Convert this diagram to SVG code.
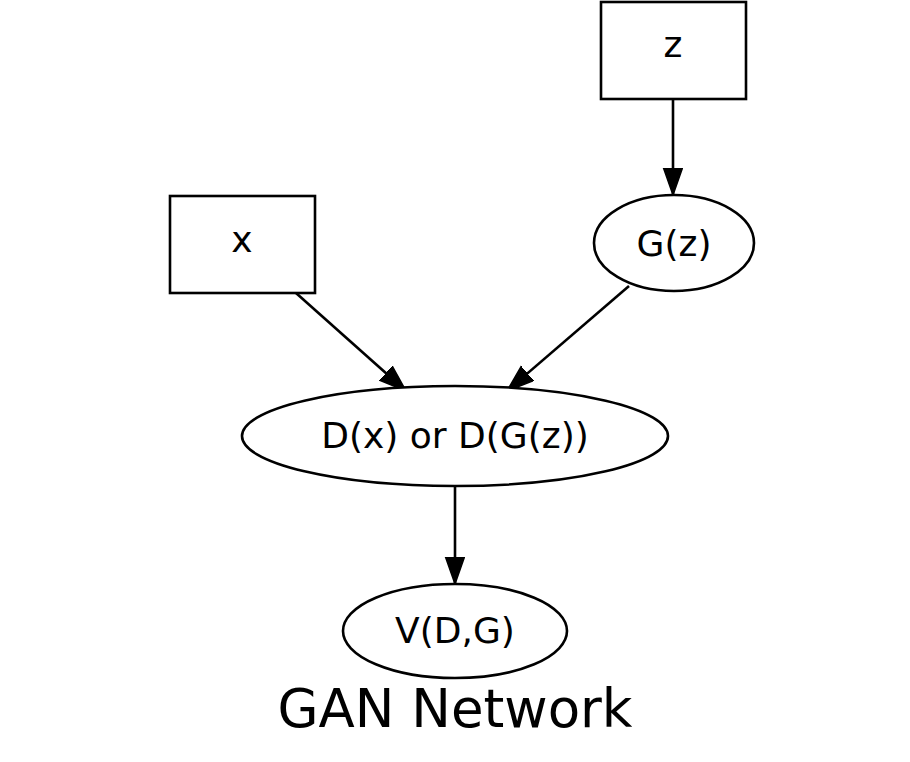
<svg xmlns="http://www.w3.org/2000/svg" width="910" height="762" viewBox="0 0 910 762">
<defs>
<style>
.n{fill:#fff;stroke:#000;stroke-width:2.6}
.t{font-family:"DejaVu Sans",sans-serif;font-size:36px;fill:#000;text-anchor:middle}
.e{stroke:#000;stroke-width:2.6;fill:none}
</style>
<marker id="ah" markerUnits="userSpaceOnUse" markerWidth="30" markerHeight="22" refX="27" refY="10" orient="auto" viewBox="0 0 30 22">
<polygon points="0,0.5 27,10 0,19.5" fill="#000" stroke="#000" stroke-width="1.5"/>
</marker>
</defs>
<rect width="910" height="762" fill="#fff"/>
<g id="edges">
<line class="e" x1="673" y1="99" x2="673" y2="195" marker-end="url(#ah)"/>
<line class="e" x1="296" y1="293" x2="406" y2="391" marker-end="url(#ah)"/>
<line class="e" x1="629" y1="286" x2="507" y2="391" marker-end="url(#ah)"/>
<line class="e" x1="455" y1="486" x2="455" y2="584" marker-end="url(#ah)"/>
</g>
<g id="z">
<rect class="n" x="601" y="2" width="145" height="97"/>
<text class="t" x="673" y="57">z</text>
</g>
<g id="x">
<rect class="n" x="170" y="196" width="145" height="97"/>
<text class="t" x="242" y="252">x</text>
</g>
<g id="Gz">
<ellipse class="n" cx="674" cy="243" rx="80" ry="48"/>
<text class="t" x="674" y="256">G(z)</text>
</g>
<g id="D">
<ellipse class="n" cx="455" cy="436" rx="213" ry="50"/>
<text class="t" x="455" y="448">D(x) or D(G(z))</text>
</g>
<g id="V">
<ellipse class="n" cx="455" cy="631" rx="112" ry="47"/>
<text class="t" x="455" y="643">V(D,G)</text>
</g>
<text class="t" x="455" y="727" style="font-size:53px">GAN Network</text>
</svg>
